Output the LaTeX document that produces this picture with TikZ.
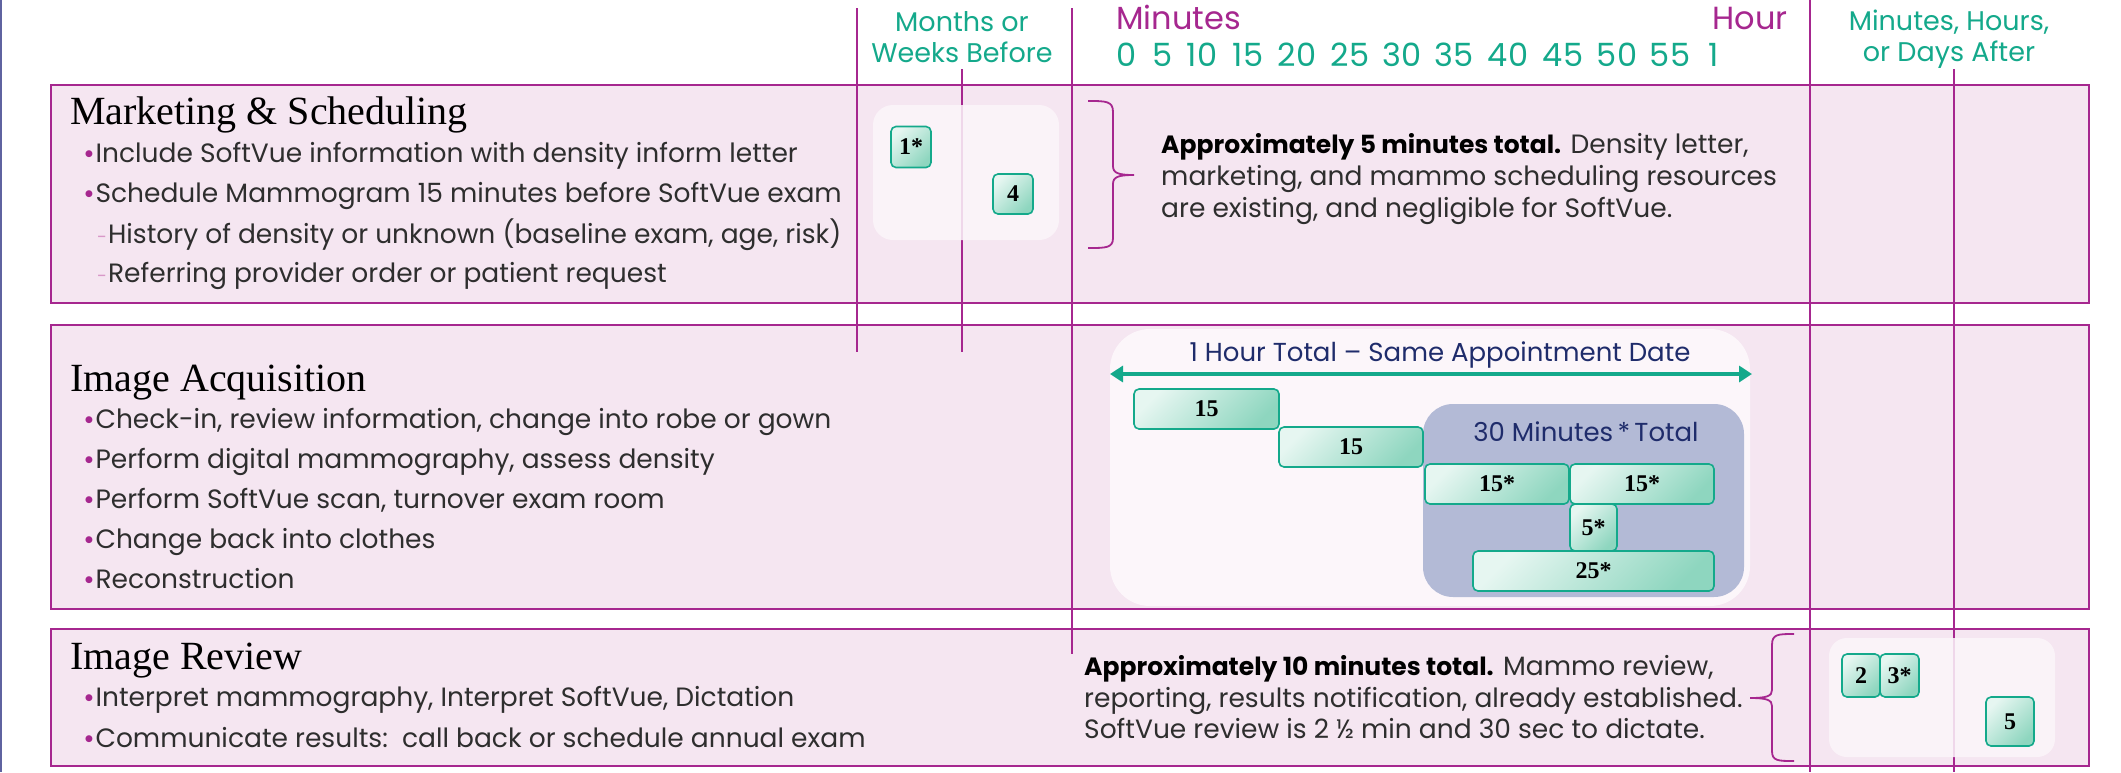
\documentclass[tikz,border=0pt]{standalone}
\usepackage{fontspec}
\setmainfont{Poppins}
\newfontfamily\serif{Liberation Serif}
\newfontfamily\dejavu{DejaVu Sans}
\usetikzlibrary{arrows.meta}
\definecolor{mag}{HTML}{A6278F}
\definecolor{rowfill}{HTML}{F5E6F1}
\definecolor{teal}{HTML}{14A98B}
\definecolor{navy}{HTML}{1F2C6B}
\definecolor{slate}{HTML}{B3BAD6}
\definecolor{soft}{HTML}{FCF6FA}
\definecolor{txt}{HTML}{2E2E2E}
\definecolor{gl}{HTML}{E6F6F1}
\definecolor{gd}{HTML}{8ED6BF}
\definecolor{edge}{HTML}{5F63A0}
\definecolor{dashc}{HTML}{D898C8}
\newcommand{\bul}{\textcolor{mag}{\raisebox{5.5pt}{\dejavu\fontsize{9}{9}\selectfont●}}\hspace{2.5pt}}
\newcommand{\sub}{\textcolor{dashc}{\fontsize{18}{18}\selectfont-}\hspace{1pt}}
\newcommand{\lead}[1]{\textcolor{black}{\bfseries\fontsize{25}{30}\selectfont #1}}
\begin{document}
\begin{tikzpicture}[x=1pt,y=-1pt,
  rowbox/.style={draw=mag, line width=2.2pt, fill=rowfill},
  vline/.style={draw=mag, line width=1.6pt},
  title/.style={anchor=base west, inner sep=0pt, font=\serif\fontsize{40}{44}\selectfont, text=black},
  item/.style={anchor=base west, inner sep=0pt, font=\fontsize{26.5}{30}\selectfont, text=txt},
  head/.style={anchor=base, inner sep=0pt, font=\fontsize{27}{30}\selectfont, text=teal},
  minhead/.style={inner sep=0pt, font=\fontsize{32}{36}\selectfont, text=mag},
  hnum/.style={anchor=base, inner sep=0pt, font=\fontsize{32}{36}\selectfont, text=teal},
  navytxt/.style={anchor=base, inner sep=0pt, font=\fontsize{26}{30}\selectfont, text=navy},
  note/.style={anchor=base west, inner sep=0pt, font=\fontsize{26.5}{30}\selectfont, text=txt},
  overlay/.style={fill=soft, fill opacity=0.85, draw=none},
  numbox/.style={draw=teal, line width=1.6pt, rounded corners=5pt, top color=gl, bottom color=gd, shading angle=45, inner sep=0pt, font=\serif\bfseries\fontsize{24}{26}\selectfont, text=black},
  bracestyle/.style={draw=mag, line width=1.8pt}
]
\useasboundingbox (0,0) rectangle (2121,772);
\fill[white] (0,0) rectangle (2121,772);
\draw[line width=2.5pt, edge] (1,0) -- (1,772);

% rows
\path[rowbox] (51,85) rectangle (2089,303);
\path[rowbox] (51,325) rectangle (2089,609);
\path[rowbox] (51,629) rectangle (2089,766);

% vertical time lines
\draw[vline] (857,8) -- (857,352);
\draw[vline] (962,69) -- (962,352);
\draw[vline] (1072,8) -- (1072,654);
\draw[vline] (1810,0) -- (1810,772);
\draw[vline] (1954,69) -- (1954,772);

% header
\node[head] (mw1) at (962,31) {Months or};
\node[head] (mw2) at (962,62) {Weeks Before};
\node[minhead, anchor=base west] (minutes) at (1116,29) {Minutes};
\node[minhead, anchor=base east] (hour) at (1788,29) {Hour};
\foreach \v/\x in {0/1127,5/1163,10/1202,15/1248,20/1297,25/1350,30/1402,35/1454,40/1508,45/1563,50/1617,55/1670,1/1714}
  \node[hnum] (m\v) at (\x,66) {\v};
\node[head] (ah1) at (1949,30) {Minutes, Hours,};
\node[head] (ah2) at (1949,61) {or Days After};

% row 1
\node[title] (t1) at (70,124) {Marketing \& Scheduling};
\node[item] (r1a) at (85,162) {\bul Include SoftVue information with density inform letter};
\node[item] (r1b) at (85,202) {\bul Schedule Mammogram 15 minutes before SoftVue exam};
\node[item] (r1c) at (97,243) {\sub History of density or unknown (baseline exam, age, risk)};
\node[item] (r1d) at (97,282) {\sub Referring provider order or patient request};
\path[overlay, rounded corners=20pt] (873,105) rectangle (1059,240);
\node[numbox, minimum width=40pt, minimum height=41pt] (b1) at (911,147) {1*};
\node[numbox, minimum width=40pt, minimum height=40pt] (b4) at (1013,194) {4};
\draw[bracestyle] (1088,101) .. controls (1106,101) and (1113,101) .. (1113,112) -- (1113,166)
  .. controls (1113,173) and (1118,175) .. (1134,175)
  .. controls (1118,175) and (1113,177) .. (1113,184) -- (1113,238)
  .. controls (1113,248) and (1106,248) .. (1088,248);
\node[note] (n1a) at (1161,153) {\lead{Approximately 5 minutes total.} Density letter,};
\node[note] (n1b) at (1161,185) {marketing, and mammo scheduling resources};
\node[note] (n1c) at (1161,217) {are existing, and negligible for SoftVue.};

% row 2
\node[title] (t2) at (70,391) {Image Acquisition};
\node[item] (r2a) at (85,428) {\bul Check-in, review information, change into robe or gown};
\node[item] (r2b) at (85,468) {\bul Perform digital mammography, assess density};
\node[item] (r2c) at (85,508) {\bul Perform SoftVue scan, turnover exam room};
\node[item] (r2d) at (85,548) {\bul Change back into clothes};
\node[item] (r2e) at (85,588) {\bul Reconstruction};
\path[fill=soft, rounded corners=40pt] (1110,329) rectangle (1750,606);
\node[navytxt] (hourtot) at (1440,361) {1 Hour Total – Same Appointment Date};
\coordinate (al) at (1110,374);
\coordinate (ar) at (1752,374);
\draw[teal, line width=3.5pt, {Triangle[width=16pt,length=13pt]}-{Triangle[width=16pt,length=13pt]}] (al) -- (ar);
\path[fill=slate, rounded corners=30pt] (1423,404) rectangle (1744,597);
\node[navytxt] (thirty) at (1586,441) {30 Minutes\,*\,Total};
\node[numbox, minimum width=145pt, minimum height=40pt] (s1) at (1206.5,409) {15};
\node[numbox, minimum width=144pt, minimum height=40pt] (s2) at (1351,447) {15};
\node[numbox, minimum width=144pt, minimum height=40pt] (s3) at (1497,484) {15*};
\node[numbox, minimum width=144pt, minimum height=40pt] (s4) at (1642,484) {15*};
\node[numbox, minimum width=47pt, minimum height=47pt] (s5) at (1593.5,527.5) {5*};
\node[numbox, minimum width=241pt, minimum height=40pt] (s6) at (1593.5,571) {25*};

% row 3
\node[title] (t3) at (70,669) {Image Review};
\node[item] (r3a) at (85,706) {\bul Interpret mammography, Interpret SoftVue, Dictation};
\node[item] (r3b) at (85,747) {\bul Communicate results:\ \ call back or schedule annual exam};
\node[note] (n3a) at (1084,675) {\lead{Approximately 10 minutes total.} Mammo review,};
\node[note] (n3b) at (1084,707) {reporting, results notification, already established.};
\node[note] (n3c) at (1084,738) {SoftVue review is 2 ½ min and 30 sec to dictate.};
\draw[bracestyle] (1794,634) .. controls (1778,634) and (1772,634) .. (1772,645) -- (1772,690)
  .. controls (1772,696) and (1767,698) .. (1750,698)
  .. controls (1767,698) and (1772,700) .. (1772,706) -- (1772,751)
  .. controls (1772,761) and (1778,761) .. (1794,761);
\path[overlay, rounded corners=18pt] (1829,638) rectangle (2055,757);
\node[numbox, minimum width=38pt, minimum height=43pt] (c2) at (1861,675.5) {2};
\node[numbox, minimum width=39pt, minimum height=43pt] (c3) at (1899.5,675.5) {3*};
\node[numbox, minimum width=48pt, minimum height=49pt] (c5) at (2010,721.5) {5};
\end{tikzpicture}
\end{document}
